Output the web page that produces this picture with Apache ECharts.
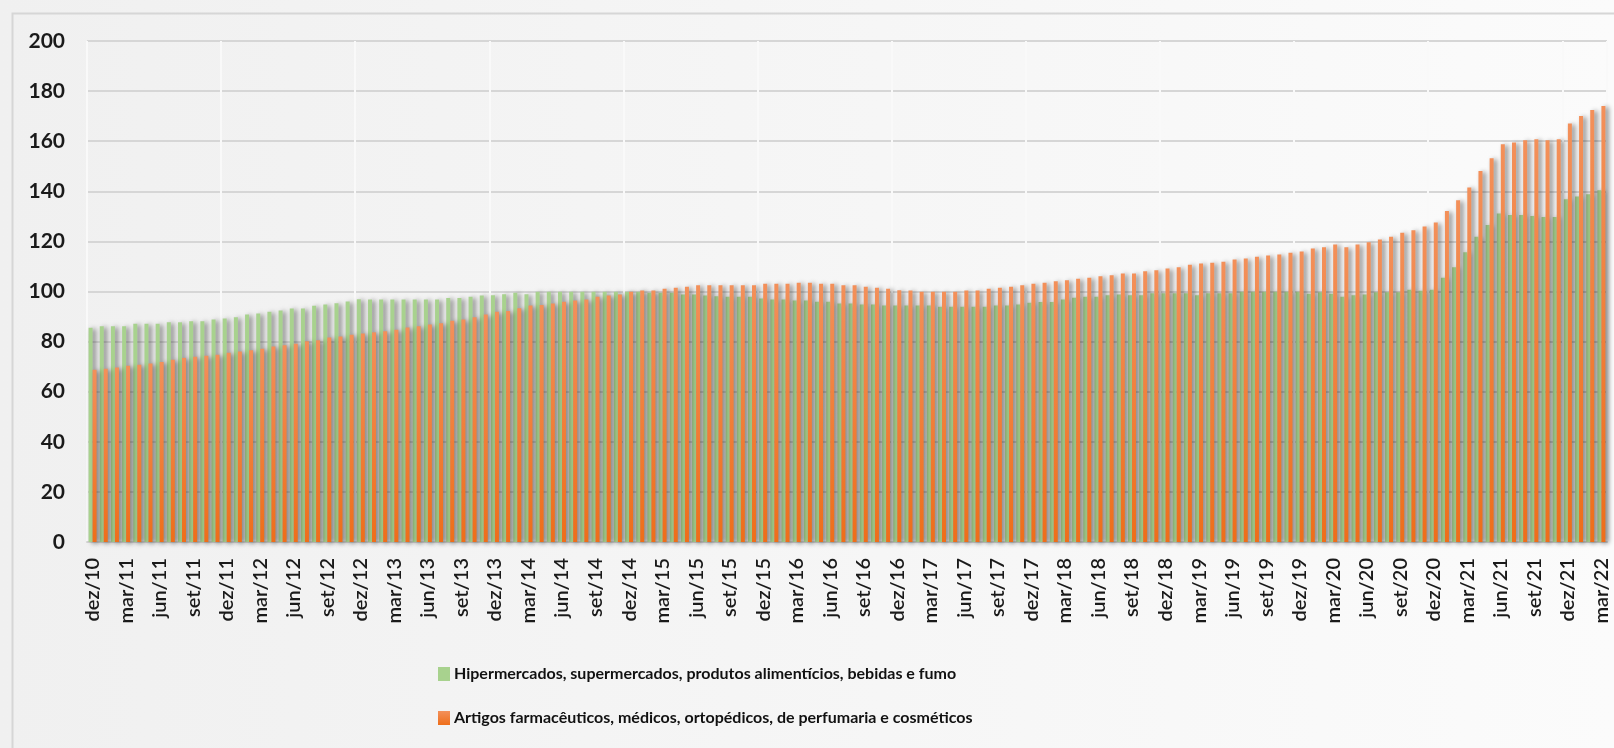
<!DOCTYPE html>
<html>
<head>
<meta charset="utf-8">
<script src="https://cdn.jsdelivr.net/npm/echarts@6/dist/echarts.min.js"></script>
<style>
html,body{margin:0;padding:0;background:#f4f4f4;}
#c{width:1614px;height:748px;}
</style>
</head>
<body>
<div id="c"></div>
<script>
// ---- Data ----
const months = ['jan','fev','mar','abr','mai','jun','jul','ago','set','out','nov','dez'];
const startYear = 2010, startMonth = 11; // dez/10
const nMonths = 136;
const categories = [];
for (let i = 0; i < nMonths; i++) {
  const m = (startMonth + i) % 12;
  const y = startYear + Math.floor((startMonth + i) / 12);
  categories.push(months[m] + '/' + String(y).slice(2));
}

const seriesNames = [
  'Hipermercados, supermercados, produtos alimentícios, bebidas e fumo',
  'Artigos farmacêuticos, médicos, ortopédicos, de perfumaria e cosméticos'
];

const hiperValues = [
  85.5, 86.1, 86.1, 86.1, 87.1, 87.1, 87.1, 87.7, 87.7, 88.1, 88.1, 88.8, 89.2, 89.7, 90.8, 91.2, 91.9, 92.4, 93.2, 93.2, 94.3, 94.8, 95.3, 96.0, 96.9,
  96.8, 96.8, 96.8, 96.8, 96.8,
  96.8, 96.8, 97.4, 97.4, 97.9, 98.4, 98.5,
  98.9, 99.5, 98.9, 99.9, 99.9, 99.9, 99.9, 99.9, 99.9, 99.9, 99.9, 99.9, 99.9, 99.5, 99.5, 99.5, 98.8, 98.8, 98.4, 98.1, 97.9, 97.9, 97.9, 97.2, 96.8, 96.8, 96.4, 96.4, 95.9, 95.9, 95.2, 95.2, 94.8, 94.8, 94.4, 94.4,
  94.4, 94.4, 94.4, 93.9, 93.9, 93.9, 93.9, 93.9, 94.4, 94.4, 94.8, 95.5, 95.8, 95.8, 96.8, 97.5, 97.9, 97.9, 98.5, 98.8, 98.5, 98.5, 99.3, 99.3, 99.3, 99.3, 98.5, 99.3, 99.3, 99.3, 99.9, 99.9, 99.9, 99.9, 99.9, 99.9,
  99.1, 99.7, 99.1, 97.9, 98.5, 98.8, 99.7, 99.7, 99.7, 100.7, 100.3, 100.7, 105.5, 109.7, 115.7, 121.9, 126.5, 131.1, 130.5, 130.5, 130.1, 129.7, 129.7, 136.8, 137.9, 138.8, 140.4
];

const farmaValues = [
  68.8, 69.2, 69.7, 70.4, 70.8, 71.3, 71.9, 72.8, 73.5, 74.0, 74.4, 74.8, 75.5, 76.0, 76.5, 77.1, 78.0, 78.5, 79.1, 80.1, 80.5, 81.6, 82.0, 82.7, 83.2, 83.7, 84.1, 84.7, 85.6, 86.1,
  86.8, 87.3, 88.3, 88.8, 89.7, 90.8, 91.9,
  92.2, 93.3, 94.4, 94.6, 95.2, 95.9, 96.4, 96.8, 97.9, 98.4, 98.8, 99.9, 100.4, 100.4, 101.1, 101.5, 101.9, 102.5, 102.5, 102.5, 102.5, 102.5, 102.5, 103.1, 103.1, 103.1, 103.5, 103.5, 103.1, 103.1, 102.5, 102.5, 101.9, 101.5, 101.1, 100.5,
  100.4, 99.9, 99.9, 99.9, 99.9, 100.4, 100.4, 101.1, 101.5, 101.9, 102.5, 103.1, 103.5, 104.1, 104.5, 105.1, 105.5, 106.1, 106.5, 107.2, 107.2, 108.1, 108.5, 109.2, 109.7, 110.7, 111.2, 111.5, 111.9, 112.8, 113.2, 113.9, 114.4, 114.8, 115.5,
  116.0, 117.2, 117.7, 118.8, 117.7, 118.8, 119.7, 120.8, 121.9, 123.5, 124.5, 125.9, 127.5, 132.1, 136.4, 141.5, 148.1, 153.2, 158.8, 159.5, 160.4, 160.8, 160.4, 160.8, 167.1, 170.1, 172.5, 174.1
];

const yTicks = { min: 0, max: 200, interval: 20 };

// ---- Chart ----
const chart = echarts.init(document.getElementById('c'), null, { renderer: 'canvas' });
const shadow = { shadowColor: 'rgba(0,0,0,0.5)', shadowBlur: 5, shadowOffsetX: 3, shadowOffsetY: 1 };

chart.setOption({
  animation: false,
  backgroundColor: new echarts.graphic.LinearGradient(0, 0, 1, 0, [
    { offset: 0, color: '#f0f0f0' }, { offset: 1, color: '#fbfbfb' }
  ]),
  graphic: [{
    type: 'rect', left: 10, top: 11, silent: true, z: -1,
    shape: { width: 1700, height: 800 },
    style: { fill: 'none', stroke: '#d6d6d6', lineWidth: 2 }
  }],
  grid: { left: 87, right: 7, top: 41, bottom: 206, containLabel: false },
  legend: {
    orient: 'vertical', left: 433, top: 659,
    itemWidth: 12, itemHeight: 14, itemGap: 24, icon: 'rect',
    textStyle: { fontFamily: 'Lato, sans-serif', fontSize: 16, fontWeight: 'bold', color: '#111', lineHeight: 20, padding: [0,0,0,-1] },
    data: seriesNames
  },
  xAxis: {
    type: 'category', data: categories,
    axisLine: { show: true, lineStyle: { color: '#d4d4d4', width: 2 } },
    axisTick: { show: false },
    axisLabel: { interval: 2, rotate: 90, margin: 16, fontFamily: 'Lato, sans-serif', fontSize: 20, fontWeight: 600, color: '#1a1a1a' },
    splitLine: { show: true, interval: function (i) { return i % 12 === 0; }, lineStyle: { color: '#f9f9f9', width: 2 } }
  },
  yAxis: {
    type: 'value', min: yTicks.min, max: yTicks.max, interval: yTicks.interval,
    axisLine: { show: false }, axisTick: { show: false },
    axisLabel: { margin: 22, fontFamily: 'Lato, sans-serif', fontSize: 21, fontWeight: 'bold', color: '#1a1a1a' },
    splitLine: { lineStyle: { color: '#d6d6d6', width: 2 } }
  },
  series: [
    {
      name: seriesNames[0], type: 'bar', data: hiperValues,
      barWidth: 4, barGap: '0%',
      itemStyle: Object.assign({ color: '#a8d28e' }, shadow)
    },
    {
      name: seriesNames[1], type: 'bar', data: farmaValues,
      barWidth: 4, barGap: '0%',
      itemStyle: Object.assign({
        color: new echarts.graphic.LinearGradient(0, 0, 0, 1, [
          { offset: 0, color: '#f3905a' }, { offset: 1, color: '#ee6e1a' }
        ])
      }, shadow)
    }
  ]
});
</script>
</body>
</html>
